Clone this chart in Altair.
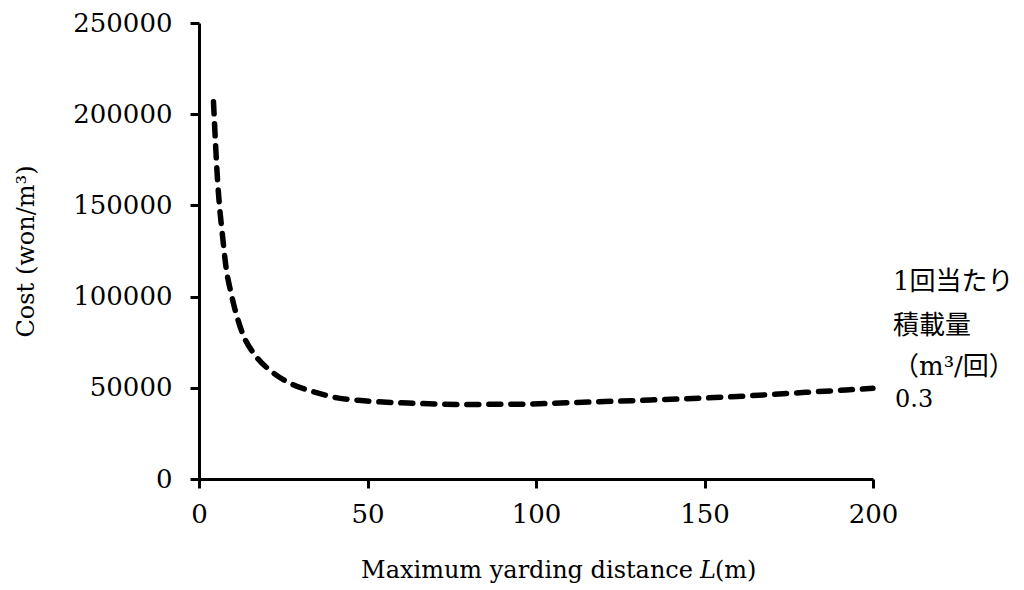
import altair as alt
import pandas as pd

# ---- data ----
distance_m = [4.3, 4.8, 5.5, 6.1, 6.9, 8.0, 9.5, 11.2, 13.1, 16.6, 21.6, 27.5, 33.9,
              41, 49, 64, 78, 95, 109, 134, 158, 180, 200]
cost_won = [206800, 187700, 163900, 149300, 134700, 116400, 102000, 89500, 79000,
            68000, 58800, 52100, 47900, 44500, 42900, 41500, 40900, 41000, 41800,
            43300, 45100, 47500, 49700]
x_ticks = [0, 50, 100, 150, 200]
y_ticks = [0, 50000, 100000, 150000, 200000, 250000]
series_label_lines = ["1回当たり", "積載量", "（m³/回）"]
series_value = "0.3"
x_title_main = "Maximum yarding distance"
x_title_var = "L"
x_title_unit = "(m)"
y_title = "Cost (won/m³)"

df = pd.DataFrame({"L": distance_m, "cost": cost_won})
end_df = df.tail(1)

SERIF = "DejaVu Serif"
MIXED = "DejaVu Serif, Noto Sans CJK JP"
W, H = 674, 456

x_scale = alt.Scale(domain=[0, 200], nice=False, zero=False)
y_scale = alt.Scale(domain=[0, 250000], nice=False)

x_axis = alt.Axis(values=x_ticks, title=None, grid=False, domainColor="black",
                  domainWidth=3, tickColor="black", tickWidth=3, tickSize=9,
                  labelFont=SERIF, labelFontSize=26, labelColor="black",
                  labelPadding=13, labelFlush=False)
y_axis = alt.Axis(values=y_ticks, format="d", title=y_title, grid=False,
                  domainColor="black", domainWidth=3, tickColor="black",
                  tickWidth=3, tickSize=9, labelFont=SERIF, labelFontSize=26,
                  labelColor="black", labelPadding=18, labelFlush=False,
                  titleFont=SERIF, titleFontSize=24, titleFontWeight="normal",
                  titleColor="black", titleAngle=-90, titleX=-166, titleY=H / 2,
                  titleAlign="center", titleBaseline="alphabetic")

line = alt.Chart(df).mark_line(
    color="black", strokeWidth=5.5, strokeDash=[12, 10], strokeCap="round",
    interpolate="monotone", clip=False
).encode(
    x=alt.X("L:Q", scale=x_scale, axis=x_axis),
    y=alt.Y("cost:Q", scale=y_scale, axis=y_axis),
)

# series value next to line end
value_text = alt.Chart(end_df).mark_text(
    align="left", baseline="middle", dx=22, dy=12, font=SERIF, fontSize=24,
    color="black"
).encode(x="L:Q", y="cost:Q", text=alt.value(series_value))

label_layers = []
for txt, dy in zip(series_label_lines, [-106, -62, -21]):
    label_layers.append(
        alt.Chart(end_df).mark_text(
            align="left", baseline="middle", dx=20, dy=dy, font=MIXED,
            fontSize=26, color="black"
        ).encode(x="L:Q", y="cost:Q", text=alt.value(txt))
    )

# x-axis title with italic variable
title_df = pd.DataFrame({"k": [0]})
xt_base = H + 99
xt1 = alt.Chart(title_df).mark_text(
    align="right", baseline="alphabetic", font=SERIF, fontSize=24, color="black"
).encode(x=alt.value(494), y=alt.value(xt_base), text=alt.value(x_title_main))
xt2 = alt.Chart(title_df).mark_text(
    align="left", baseline="alphabetic", font=SERIF, fontSize=24,
    fontStyle="italic", color="black"
).encode(x=alt.value(501), y=alt.value(xt_base), text=alt.value(x_title_var))
xt3 = alt.Chart(title_df).mark_text(
    align="left", baseline="alphabetic", font=SERIF, fontSize=24, color="black"
).encode(x=alt.value(516), y=alt.value(xt_base), text=alt.value(x_title_unit))

chart = alt.layer(line, value_text, *label_layers, xt1, xt2, xt3).properties(
    width=W, height=H,
    autosize=alt.AutoSizeParams(type="none"),
    padding={"left": 199, "top": 23, "right": 151, "bottom": 111},
    background="white",
).configure_view(stroke=None)

chart.save("out.html", embed_options={"renderer": "svg", "actions": False})
